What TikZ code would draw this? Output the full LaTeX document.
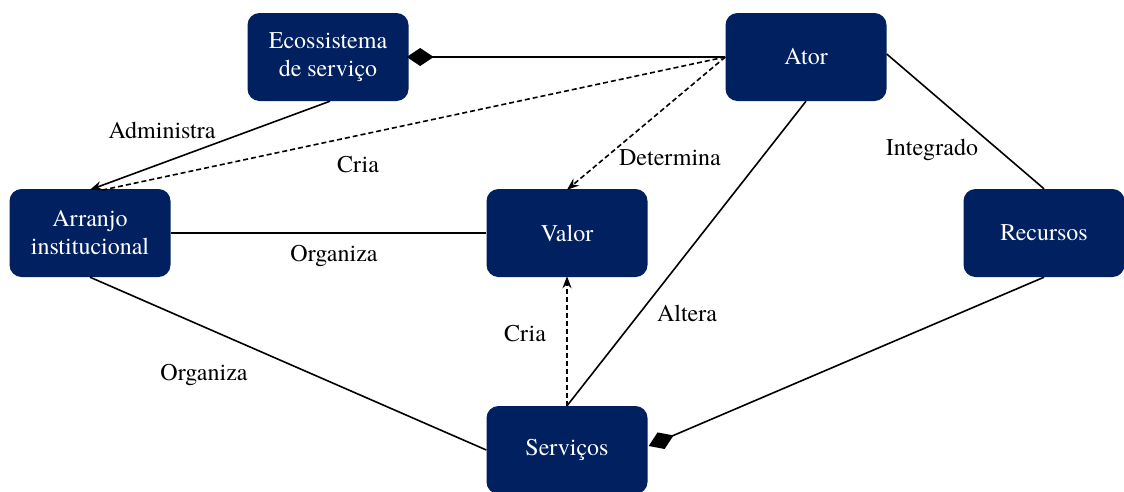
\documentclass[tikz,border=0pt]{standalone}
\usepackage{fontspec}
\setmainfont{TeX Gyre Termes}
\usetikzlibrary{arrows.meta}
\definecolor{navy}{RGB}{0,32,96}
\begin{document}
\begin{tikzpicture}[x=1pt,y=-1pt,
  entity/.style={draw=none, fill=navy, rounded corners=12pt, text=white,
    minimum width=161pt, minimum height=88pt, inner sep=0pt, align=center,
    font=\fontsize{24}{28}\selectfont},
  lbl/.style={font=\fontsize{24}{28}\selectfont, inner sep=0pt},
  link/.style={line width=1.6pt},
  dep/.style={line width=1.6pt, dash pattern=on 5pt off 3pt},
  tip/.style={-{Stealth[length=12pt,width=9pt]}},
  agg/.style={-{Diamond[length=27pt,width=18pt]}}
]
\useasboundingbox (0,0) rectangle (1124,491);

% entities
\node[entity] (eco) at (328,57) {Ecossistema\\de serviço};
\node[entity] (ator) at (806,57) {Ator};
\node[entity] (arr) at (90,233) {Arranjo\\institucional};
\node[entity] (val) at (567,233) {Valor};
\node[entity] (rec) at (1044,233) {Recursos};
\node[entity] (srv) at (567,450) {Serviços};

% relations
\draw[link,agg] (ator.west) -- ([xshift=-2pt]eco.east);
\draw[link,tip] ([xshift=2pt]eco.south) -- ([yshift=-1pt]arr.north);
\draw[dep] (ator.west) -- ([xshift=9pt,yshift=-2pt]arr.north);
\draw[dep,tip] (ator.west) -- ([yshift=-1pt]val.north);
\draw[link] (arr.east) -- (val.west);
\draw[link] (arr.south) -- (srv.west);
\draw[dep,tip] (srv.north) -- ([yshift=1pt]val.south);
\draw[link] (srv.north) -- (ator.south);
\draw[link] ([yshift=3pt]ator.east) -- (rec.north);
\draw[link,agg] (rec.south) -- ([xshift=1pt,yshift=4pt]srv.east);

% relation labels
\node[lbl] (l1) at (162,130) {Administra};
\node[lbl] (l2) at (358,165) {Cria};
\node[lbl] (l3) at (670,158) {Determina};
\node[lbl] (l4) at (932,150) {Integrado};
\node[lbl] (l5) at (334,256) {Organiza};
\node[lbl] (l6) at (204,375) {Organiza};
\node[lbl] (l7) at (525,334) {Cria};
\node[lbl] (l8) at (687,313) {Altera};
\end{tikzpicture}
\end{document}
